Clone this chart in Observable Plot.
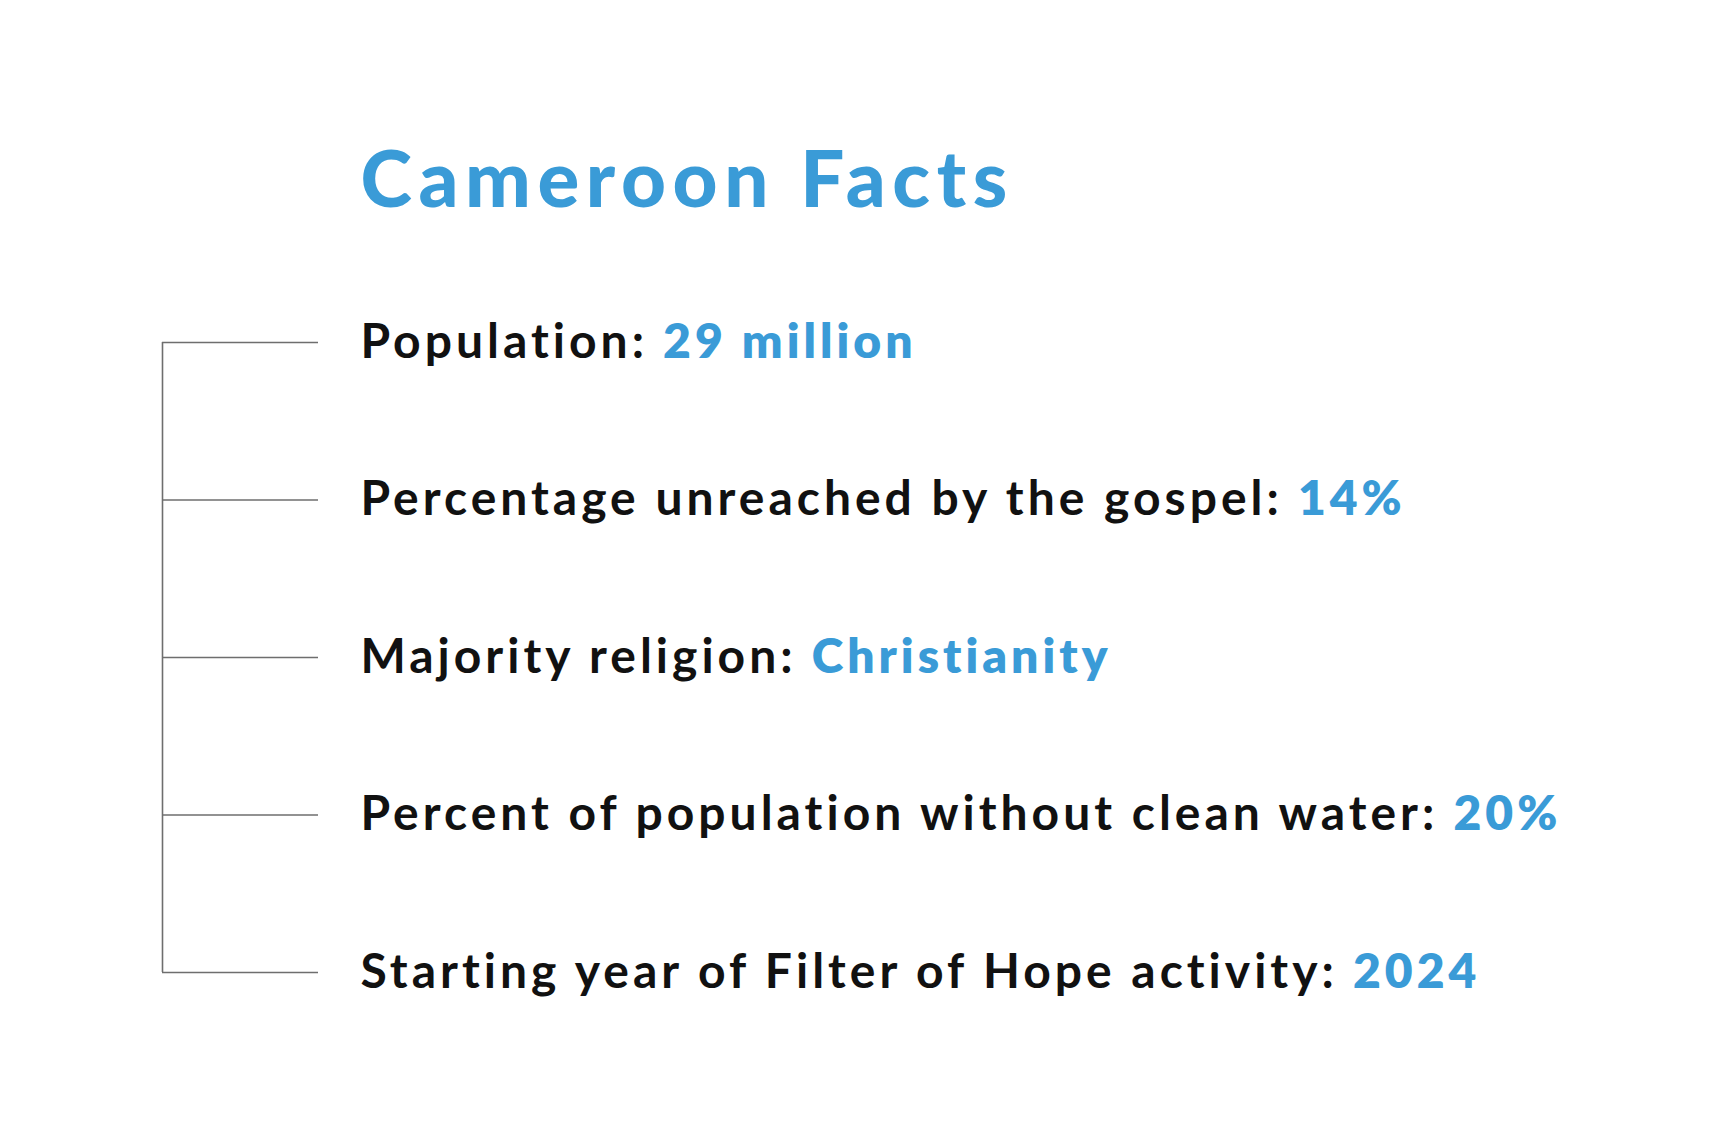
<!DOCTYPE html>
<html>
<head>
<meta charset="utf-8">
<script src="https://cdn.jsdelivr.net/npm/d3@7"></script>
<script src="https://cdn.jsdelivr.net/npm/@observablehq/plot@0.6"></script>
<style>
  html, body { margin: 0; padding: 0; background: #ffffff; }
  #chart svg { display: block; }
</style>
</head>
<body>
<div id="chart"></div>
<script>
// ---- data ----
const title = "Cameroon Facts";
const labels = [
  "Population:",
  "Percentage unreached by the gospel:",
  "Majority religion:",
  "Percent of population without clean water:",
  "Starting year of Filter of Hope activity:"
];
const values = ["29 million", "14%", "Christianity", "20%", "2024"];

// ---- style ----
const BLUE = "#3a9bd7";
const INK = "#111111";
const LINE = "#6e6e6e";
const W = 1725, H = 1125;
const bracketX = 162, stubEnd = 318, textX = 360;

const rows = labels.map((label, i) => ({i, label, value: values[i]}));

function withValues(index, scales, vals, dims, context, next) {
  const g = next(index, scales, vals, dims, context);
  g.style.letterSpacing = "4px";
  g.querySelectorAll("text").forEach((t, j) => {
    const d = rows[index[j]];
    const ts = document.createElementNS("http://www.w3.org/2000/svg", "tspan");
    ts.setAttribute("fill", BLUE);
    ts.setAttribute("font-weight", "800");
    ts.textContent = " " + d.value;
    t.appendChild(ts);
  });
  return g;
}

function titleSpacing(index, scales, vals, dims, context, next) {
  const g = next(index, scales, vals, dims, context);
  g.style.letterSpacing = "6.6px";
  return g;
}

const chart = Plot.plot({
  width: W,
  height: H,
  margin: 0,
  style: {fontFamily: "Lato, 'Noto Sans', sans-serif", background: "#ffffff"},
  x: {domain: [0, W], range: [0, W], axis: null},
  y: {domain: [0, labels.length - 1], range: [342, 972], axis: null},
  marks: [
    Plot.ruleX([bracketX], {y1: 0, y2: labels.length - 1, stroke: LINE, strokeWidth: 1.6}),
    Plot.ruleY(rows, {y: "i", x1: bracketX, x2: stubEnd, stroke: LINE, strokeWidth: 1.6}),
    Plot.text(rows, {
      x: textX, y: "i", text: "label",
      textAnchor: "start", lineAnchor: "middle",
      fontSize: 48, fontWeight: 700, fill: INK,
      render: withValues
    }),
    Plot.text([title], {
      frameAnchor: "top-left", text: d => d,
      dx: textX, dy: 206, lineAnchor: "bottom", textAnchor: "start",
      fontSize: 78, fontWeight: 900, fill: BLUE,
      render: titleSpacing
    })
  ]
});
document.getElementById("chart").appendChild(chart);
</script>
</body>
</html>
